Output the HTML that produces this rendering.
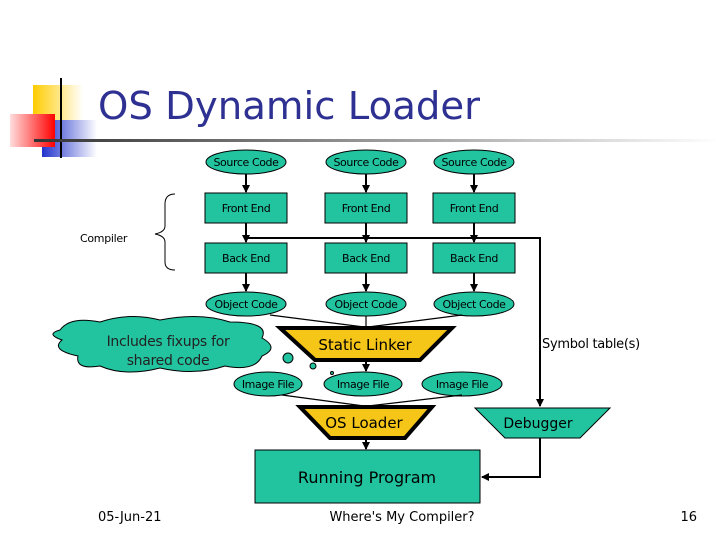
<!DOCTYPE html>
<html><head><meta charset="utf-8"><style>
body{margin:0;width:720px;height:540px;background:#fff;overflow:hidden;font-family:"DejaVu Sans","Liberation Sans",sans-serif}
</style></head><body>
<svg width="720" height="540" viewBox="0 0 720 540" xmlns="http://www.w3.org/2000/svg">
<defs>
<linearGradient id="ln" x1="0" x2="1"><stop offset="0" stop-color="#333"/><stop offset="1" stop-color="#fff"/></linearGradient>
<linearGradient id="rd" x1="1" x2="0"><stop offset="0" stop-color="#f00"/><stop offset="1" stop-color="#fdd"/></linearGradient>
<linearGradient id="bl" x1="0" x2="1"><stop offset="0" stop-color="#2233cc"/><stop offset="1" stop-color="#fff"/></linearGradient>
<linearGradient id="yl" x1="0" x2="1"><stop offset="0" stop-color="#fc0"/><stop offset="1" stop-color="#fff"/></linearGradient>
<marker id="a" markerWidth="8" markerHeight="8" refX="7" refY="4" orient="auto" markerUnits="userSpaceOnUse"><path d="M0,0 L8,4 L0,8z" fill="#000"/></marker>
</defs>
<rect x="33" y="85" width="50" height="45" fill="url(#yl)"/>
<rect x="42" y="120" width="55" height="37" fill="url(#bl)"/>
<rect x="10" y="114" width="45" height="33" fill="url(#rd)"/>
<line x1="61" y1="78" x2="61" y2="158" stroke="#000" stroke-width="2"/>
<rect x="34" y="139" width="686" height="3" fill="url(#ln)"/>
<text x="98" y="119" font-family="DejaVu Sans,sans-serif" font-size="38" fill="#2e3192" textLength="382" lengthAdjust="spacingAndGlyphs">OS Dynamic Loader</text>

<g font-size="11" fill="#000" text-anchor="middle" letter-spacing="-0.4">
<g stroke="#000" stroke-width="1">
<g fill="#22c4a0">
<ellipse cx="246" cy="162" rx="40" ry="12"/><ellipse cx="366" cy="162" rx="40" ry="12"/><ellipse cx="474" cy="162" rx="40" ry="12"/>
<rect x="205" y="193" width="82" height="30"/><rect x="325" y="193" width="82" height="30"/><rect x="433" y="193" width="82" height="30"/>
<rect x="205" y="243" width="82" height="30"/><rect x="325" y="243" width="82" height="30"/><rect x="433" y="243" width="82" height="30"/>
<ellipse cx="246" cy="304" rx="40" ry="12"/><ellipse cx="366" cy="304" rx="40" ry="12"/><ellipse cx="474" cy="304" rx="40" ry="12"/>
<ellipse cx="268" cy="384" rx="34" ry="12"/><ellipse cx="363" cy="384" rx="39" ry="12"/><ellipse cx="462" cy="384" rx="40" ry="12"/>
<polygon points="475,408 610,408 580,438 505,438"/>
<rect x="255" y="450" width="225" height="53"/>
</g>
<polygon points="280,328 452,328 420,360 315,360" fill="#f5c518" stroke-width="4"/>
<polygon points="300,407 432,407 405,438 330,438" fill="#f5c518" stroke-width="4"/>
<g stroke-width="2" fill="none">
<line x1="246" y1="174" x2="246" y2="192" marker-end="url(#a)"/><line x1="366" y1="174" x2="366" y2="192" marker-end="url(#a)"/><line x1="474" y1="174" x2="474" y2="192" marker-end="url(#a)"/>
<line x1="246" y1="223" x2="246" y2="242" marker-end="url(#a)"/><line x1="366" y1="223" x2="366" y2="242" marker-end="url(#a)"/><line x1="474" y1="223" x2="474" y2="242" marker-end="url(#a)"/>
<line x1="246" y1="273" x2="246" y2="291" marker-end="url(#a)"/><line x1="366" y1="273" x2="366" y2="291" marker-end="url(#a)"/><line x1="474" y1="273" x2="474" y2="291" marker-end="url(#a)"/>
<polyline points="246,238 540,238 540,406" marker-end="url(#a)"/>
<polyline points="540,438 540,477 482,477" marker-end="url(#a)"/>
<line x1="366" y1="360" x2="366" y2="371" marker-end="url(#a)"/>
<line x1="366" y1="438" x2="366" y2="449" marker-end="url(#a)"/>
<path d="M175,194 Q165,194 165,204 L165,226 Q165,232 155,234 Q165,236 165,242 L165,262 Q165,270 175,270" stroke-width="1"/>
</g>
<g stroke-width="1.2">
<line x1="270" y1="315" x2="364" y2="327"/><line x1="366" y1="316" x2="366" y2="327"/><line x1="462" y1="315" x2="368" y2="327"/>
<line x1="282" y1="395" x2="364" y2="406"/><line x1="462" y1="395" x2="368" y2="406"/>
</g>
<path d="M60,330 Q70,316 100,322 Q130,312 160,320 Q200,312 230,322 Q270,322 262,338 Q280,348 262,356 Q255,372 225,366 Q195,376 160,368 Q125,377 100,366 Q75,370 78,356 Q50,350 62,340 Q45,334 60,330z" fill="#22c4a0"/>
<circle cx="288" cy="358" r="5" fill="#22c4a0"/><circle cx="313" cy="366" r="3" fill="#22c4a0"/><circle cx="332" cy="373" r="1.5" fill="#22c4a0"/>
</g>
<text x="246" y="166">Source Code</text><text x="366" y="166">Source Code</text><text x="474" y="166">Source Code</text>
<text x="246" y="212">Front End</text><text x="366" y="212">Front End</text><text x="474" y="212">Front End</text>
<text x="246" y="262">Back End</text><text x="366" y="262">Back End</text><text x="474" y="262">Back End</text>
<text x="246" y="308">Object Code</text><text x="366" y="308">Object Code</text><text x="474" y="308">Object Code</text>
<text x="268" y="388">Image File</text><text x="363" y="388">Image File</text><text x="462" y="388">Image File</text>
</g>
<text x="80" y="242" font-size="11" letter-spacing="-0.3">Compiler</text>
<text x="542" y="348" font-size="13" letter-spacing="-0.3">Symbol table(s)</text>
<text x="168" y="346" font-size="14" text-anchor="middle" fill="#222" letter-spacing="-0.3">Includes fixups for</text>
<text x="168" y="365" font-size="14" text-anchor="middle" fill="#222" letter-spacing="-0.3">shared code</text>
<text x="365" y="350" font-size="15" text-anchor="middle">Static Linker</text>
<text x="364" y="428" font-size="15" text-anchor="middle">OS Loader</text>
<text x="538" y="428" font-size="14" text-anchor="middle">Debugger</text>
<text x="367" y="483" font-size="16" text-anchor="middle">Running Program</text>
<text x="98" y="521" font-size="13">05-Jun-21</text>
<text x="402" y="521" font-size="13" text-anchor="middle">Where's My Compiler?</text>
<text x="697" y="521" font-size="13" text-anchor="end">16</text>
</svg>
</body></html>
